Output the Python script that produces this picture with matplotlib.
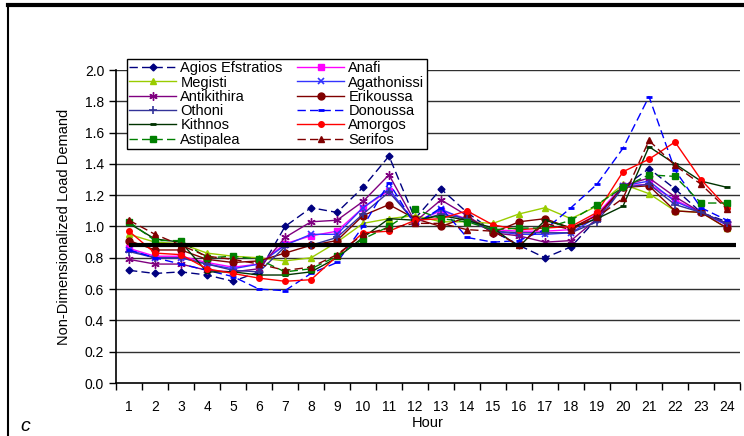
import matplotlib
matplotlib.use("Agg")
import matplotlib.pyplot as plt
from matplotlib.lines import Line2D

plt.rcParams['font.family'] = ['Liberation Sans', 'DejaVu Sans']

hours = list(range(1, 25))
threshold = 0.88

names = ["Agios Efstratios", "Anafi", "Megisti", "Agathonissi", "Antikithira", "Erikoussa",
         "Othoni", "Donoussa", "Kithnos", "Amorgos", "Astipalea", "Serifos"]

agios = [0.72, 0.70, 0.71, 0.69, 0.65, 0.71, 1.00, 1.12, 1.09, 1.25, 1.45, 1.05,
         1.24, 1.09, 0.97, 0.88, 0.80, 0.87, 1.05, 1.25, 1.37, 1.24, 1.09, 1.03]
anafi = [0.86, 0.81, 0.81, 0.77, 0.74, 0.76, 0.89, 0.94, 0.97, 1.12, 1.23, 1.03,
         1.10, 1.05, 0.98, 0.97, 0.97, 0.98, 1.08, 1.26, 1.27, 1.17, 1.09, 1.01]
megisti = [0.95, 0.90, 0.89, 0.83, 0.81, 0.80, 0.78, 0.80, 0.90, 1.02, 1.05, 1.07,
           1.03, 1.03, 1.02, 1.08, 1.12, 1.05, 1.13, 1.27, 1.21, 1.10, 1.09, 0.99]
agathonissi = [0.85, 0.80, 0.80, 0.76, 0.73, 0.76, 0.88, 0.95, 0.95, 1.12, 1.24, 1.02,
               1.11, 1.04, 0.97, 0.95, 0.95, 0.96, 1.06, 1.26, 1.29, 1.16, 1.09, 1.01]
antikithira = [0.79, 0.76, 0.76, 0.72, 0.71, 0.73, 0.93, 1.03, 1.04, 1.16, 1.33, 1.03,
               1.17, 1.07, 0.96, 0.94, 0.90, 0.91, 1.05, 1.26, 1.31, 1.19, 1.09, 1.02]
erikoussa = [0.91, 0.85, 0.85, 0.79, 0.77, 0.78, 0.83, 0.88, 0.91, 1.07, 1.14, 1.05,
             1.00, 1.06, 0.96, 1.03, 1.05, 0.99, 1.07, 1.25, 1.26, 1.10, 1.09, 0.99]
othoni = [0.84, 0.80, 0.80, 0.76, 0.72, 0.71, 0.87, 0.88, 0.93, 1.08, 1.22, 1.03,
          1.08, 1.05, 0.97, 0.96, 0.96, 0.96, 1.03, 1.25, 1.27, 1.14, 1.09, 1.02]
donoussa = [0.85, 0.80, 0.76, 0.72, 0.68, 0.60, 0.59, 0.70, 0.77, 1.00, 1.28, 1.01,
            1.12, 0.93, 0.90, 0.91, 0.98, 1.12, 1.27, 1.50, 1.83, 1.36, 1.12, 1.04]
kithnos = [1.02, 0.92, 0.90, 0.71, 0.71, 0.69, 0.69, 0.71, 0.80, 0.93, 1.05, 1.04,
           1.07, 1.04, 0.99, 0.87, 1.04, 0.99, 1.05, 1.13, 1.51, 1.40, 1.29, 1.25]
amorgos = [0.97, 0.83, 0.82, 0.73, 0.70, 0.67, 0.65, 0.66, 0.81, 0.96, 0.97, 1.04,
           1.05, 1.10, 1.01, 0.98, 0.99, 1.00, 1.09, 1.35, 1.43, 1.54, 1.30, 1.12]
astipalea = [1.03, 0.91, 0.91, 0.80, 0.81, 0.79, 0.71, 0.73, 0.81, 0.92, 1.00, 1.11,
             1.05, 1.03, 0.98, 0.99, 0.99, 1.04, 1.14, 1.25, 1.33, 1.32, 1.15, 1.15]
serifos = [1.04, 0.95, 0.88, 0.81, 0.79, 0.76, 0.72, 0.74, 0.82, 0.95, 0.99, 1.02,
           1.02, 0.98, 0.97, 0.88, 1.02, 0.98, 1.06, 1.18, 1.55, 1.39, 1.27, 1.11]

series = [agios, anafi, megisti, agathonissi, antikithira, erikoussa,
          othoni, donoussa, kithnos, amorgos, astipalea, serifos]

styles = [
    dict(color='#000080', ls=(0, (6, 3)), marker='D', ms=3.5),
    dict(color='#FF00FF', ls='-', marker='s', ms=5),
    dict(color='#99CC00', ls='-', marker='^', ms=5),
    dict(color='#3333FF', ls='-', marker='x', ms=5, mew=1.2),
    dict(color='#800080', ls='-', marker=(6, 2, 0), ms=6, mew=1.0),
    dict(color='#800000', ls='-', marker='o', ms=5),
    dict(color='#333399', ls='-', marker='+', ms=6, mew=1.2),
    dict(color='#0000FF', ls=(0, (6, 3)), marker='_', ms=4, mew=2),
    dict(color='#003300', ls='-', marker='_', ms=5, mew=2),
    dict(color='#FF0000', ls='-', marker='o', ms=4),
    dict(color='#008000', ls=(0, (6, 3)), marker='s', ms=5),
    dict(color='#800000', ls=(0, (6, 3)), marker='^', ms=5),
]

fig = plt.figure(figsize=(7.44, 4.36), dpi=100)
ax = fig.add_axes([116/744, 1 - 383/436, 624/744, 313/436])

for yv in [0.2 * k for k in range(1, 11)]:
    ax.axhline(yv, color='#303030', lw=1.0, zorder=1)

handles = []
for name, vals, st in zip(names, series, styles):
    h, = ax.plot(hours, vals, lw=1.0, label=name, zorder=3, **st)
    handles.append(h)

ax.hlines(threshold, 1, 24.35, color='black', lw=3, zorder=4)

ax.set_xlim(0.5, 24.5)
ax.set_ylim(0, 2.0)
ax.set_yticks([0.2 * k for k in range(11)])
ax.set_yticklabels([f"{0.2*k:.1f}" for k in range(11)], fontsize=10)
ax.set_xticks(hours)
ax.set_xticklabels([str(h) for h in hours], fontsize=10)
ax.set_xticks([h + 0.5 for h in range(0, 25)], minor=True)
ax.tick_params(axis='x', which='major', length=0, pad=12)
ax.tick_params(axis='x', which='minor', length=5, direction='out', width=1)
ax.tick_params(axis='y', length=5, direction='out', width=1)
for s in ['top', 'right']:
    ax.spines[s].set_visible(False)
ax.spines['left'].set_linewidth(1.2)
ax.spines['bottom'].set_linewidth(1.2)

ax.set_xlabel("Hour", fontsize=10.5, labelpad=2)
ax.set_ylabel("Non-Dimensionalized Load Demand", fontsize=10.5, labelpad=10)

order = [0, 2, 4, 6, 8, 10, 1, 3, 5, 7, 9, 11]
leg = ax.legend([handles[i] for i in order], [names[i] for i in order], ncol=2,
                loc='upper left', bbox_to_anchor=(0.018, 1.035), fontsize=10.5,
                frameon=True, fancybox=False, framealpha=1, edgecolor='black',
                handlelength=3.2, handletextpad=0.3, columnspacing=1.0,
                labelspacing=0.02, borderpad=0.15, borderaxespad=0)
leg.get_frame().set_linewidth(1.0)
leg.set_zorder(10)

# outer frame remnants
fig.add_artist(Line2D([8/744, 1], [1 - 5/436, 1 - 5/436], color='black', lw=3))
fig.add_artist(Line2D([8/744, 8/744], [0, 1 - 5/436], color='black', lw=1.5))
fig.text(20/744, 1/436, "c", fontsize=14, style='italic', va='bottom')

fig.savefig("out.png", dpi=100)
